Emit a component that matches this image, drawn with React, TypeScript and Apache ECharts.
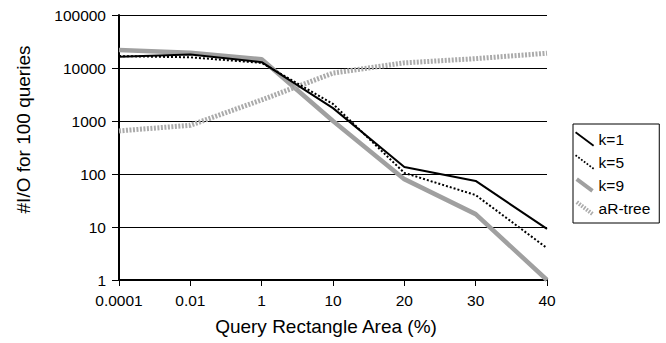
import React, { useEffect, useRef } from "react";
import * as echarts from "echarts";

const categories = ["0.0001", "0.01", "1", "10", "20", "30", "40"];
const seriesNames = ["k=1", "k=5", "k=9", "aR-tree"];
const k1Values = [16300, 18000, 12900, 1750, 135, 74, 9.2];
const k5Values = [16800, 15900, 12500, 2100, 105, 40, 4];
const k9Values = [21900, 19500, 14600, 1000, 80, 17.5, 1];
const aRValues = [650, 830, 2500, 8000, 12500, 15000, 19000];

const FONT = "'Liberation Sans', Arial, sans-serif";

function seg(ax: number, ay: number, bx: number, by: number, w: number) {
  const dx = bx - ax, dy = by - ay, L = Math.hypot(dx, dy);
  const nx = (-dy / L) * (w / 2), ny = (dx / L) * (w / 2);
  const f = (n: number) => n.toFixed(3);
  return `M${f(ax + nx)},${f(ay + ny)}L${f(bx + nx)},${f(by + ny)}L${f(bx - nx)},${f(by - ny)}L${f(ax - nx)},${f(ay - ny)}Z`;
}
function diagIcon(w: number, dash?: number, gap?: number) {
  const len = 25;
  if (!dash) return "path://" + seg(0, 0, 20, 15, w);
  let d = "";
  for (let s = 0; s < len; s += dash + (gap || 0)) {
    const e = Math.min(len, s + dash);
    d += seg(0.8 * s, 0.6 * s, 0.8 * e, 0.6 * e, w);
  }
  return "path://" + d;
}

export default function App() {
  const ref = useRef<HTMLDivElement>(null);
  useEffect(() => {
    if (!ref.current) return;
    const chart = echarts.init(ref.current, null, { renderer: "svg" });
    const colors = ["#000000", "#000000", "#a0a0a0", "#ababab"];
    const icons = [diagIcon(2), diagIcon(1.8, 1.8, 1.8), diagIcon(5), diagIcon(5, 2, 1.6)];
    chart.setOption({
      animation: false,
      backgroundColor: "#ffffff",
      textStyle: { fontFamily: FONT },
      grid: { left: 119, right: 119, top: 15, bottom: 63 },
      legend: {
        orient: "vertical",
        left: 573,
        top: 124,
        padding: [7, 9, 7, 2],
        itemGap: 7,
        itemWidth: 20,
        itemHeight: 15,
        borderColor: "#000",
        borderWidth: 1,
        backgroundColor: "#fff",
        textStyle: { fontFamily: FONT, fontSize: 15.5, color: "#000", padding: [0, 0, 0, -1] },
        data: seriesNames.map((n, i) => ({
          name: n,
          icon: icons[i],
          itemStyle: { color: colors[i], borderWidth: 0, borderColor: "transparent" },
        })),
      },
      xAxis: {
        type: "category",
        data: categories,
        boundaryGap: false,
        name: "Query Rectangle Area (%)",
        nameLocation: "middle",
        nameGap: 37,
        nameTextStyle: { fontFamily: FONT, fontSize: 19, color: "#000", padding: [0, 14, 0, 0] },
        axisLine: { lineStyle: { color: "#000", width: 2 } },
        axisTick: { show: true, length: 6, lineStyle: { color: "#000", width: 1 } },
        axisLabel: { fontFamily: FONT, fontSize: 15.5, color: "#000", margin: 12 },
        splitLine: { show: false },
      },
      yAxis: {
        type: "log",
        logBase: 10,
        min: 1,
        max: 100000,
        name: "#I/O for 100 queries",
        nameLocation: "middle",
        nameGap: 86,
        nameTextStyle: { fontFamily: FONT, fontSize: 19, color: "#000", padding: [0, 0, 0, 36] },
        axisLine: { show: true, lineStyle: { color: "#000", width: 2 } },
        axisTick: { show: true, length: 7, lineStyle: { color: "#000", width: 1 } },
        axisLabel: {
          fontFamily: FONT,
          fontSize: 15.5,
          color: "#000",
          margin: 13,
          formatter: (v: number) => String(Math.round(v)),
        },
        splitLine: { show: true, lineStyle: { color: "#000", width: 1 } },
      },
      series: [
        {
          name: "k=1",
          type: "line",
          data: k1Values,
          symbol: "none",
          z: 4,
          lineStyle: { color: colors[0], width: 2, type: "solid" },
          itemStyle: { color: colors[0] },
        },
        {
          name: "k=5",
          type: "line",
          data: k5Values,
          symbol: "none",
          z: 3,
          lineStyle: { color: colors[1], width: 2, type: [2, 2] },
          itemStyle: { color: colors[1] },
        },
        {
          name: "k=9",
          type: "line",
          data: k9Values,
          symbol: "none",
          z: 2,
          lineStyle: { color: colors[2], width: 4.5, type: "solid" },
          itemStyle: { color: colors[2] },
        },
        {
          name: "aR-tree",
          type: "line",
          data: aRValues,
          symbol: "none",
          z: 2,
          lineStyle: { color: colors[3], width: 5, type: [2, 1.5] },
          itemStyle: { color: colors[3] },
        },
      ],
    });
    return () => chart.dispose();
  }, []);
  return (
    <div
      ref={ref}
      style={{ position: "fixed", left: 0, top: 0, width: 666, height: 343, background: "#fff" }}
    />
  );
}
